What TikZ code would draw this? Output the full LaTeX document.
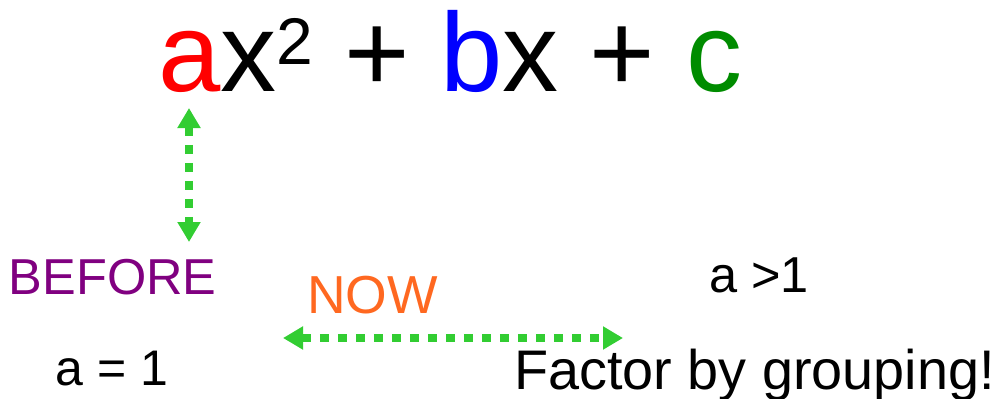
\documentclass[tikz,border=0pt]{standalone}
\usepackage{fontspec}
\setmainfont{Liberation Sans}
\usetikzlibrary{arrows.meta}
\definecolor{arrgreen}{RGB}{50,205,50}
\definecolor{beforepurple}{RGB}{128,0,128}
\definecolor{noworange}{RGB}{255,104,32}
\definecolor{cgreen}{RGB}{0,140,0}
\tikzset{
  lbl/.style={anchor=base west, inner sep=0pt, outer sep=0pt},
  dotarrow/.style={draw=arrgreen, line width=8pt, dash pattern=on 9pt off 9pt,
    {Triangle[width=22pt,length=20pt]}-{Triangle[width=22pt,length=20pt]}}
}
\begin{document}
\begin{tikzpicture}[x=1pt,y=-1pt]
\useasboundingbox (0,0) rectangle (997,399);
\node[lbl, font=\fontsize{112}{112}\selectfont] (eq) at (158,91)
  {{\color{red}a}x\raisebox{27pt}{\fontsize{66}{66}\selectfont 2} + {\color{blue}b}x + {\color{cgreen}c}};
\node[lbl, text=beforepurple, font=\fontsize{50.5}{50.5}\selectfont] (before) at (9,294) {BEFORE};
\node[lbl, font=\fontsize{50}{50}\selectfont] (aone) at (56,385) {a = 1};
\node[lbl, text=noworange, font=\fontsize{53.5}{53.5}\selectfont] (now) at (307,313) {NOW};
\node[lbl, font=\fontsize{50.5}{50.5}\selectfont] (agt) at (709,292) {a >1};
\node[lbl, font=\fontsize{55.8}{55.8}\selectfont] (factor) at (514,389) {Factor by grouping!};
\coordinate (vtop) at (189,108);
\coordinate (vbot) at (189,242);
\coordinate (hl) at (283,338);
\coordinate (hr) at (623,338);
\draw[dotarrow] (vtop) -- (vbot);
\draw[dotarrow] (hl) -- (hr);
\end{tikzpicture}
\end{document}
